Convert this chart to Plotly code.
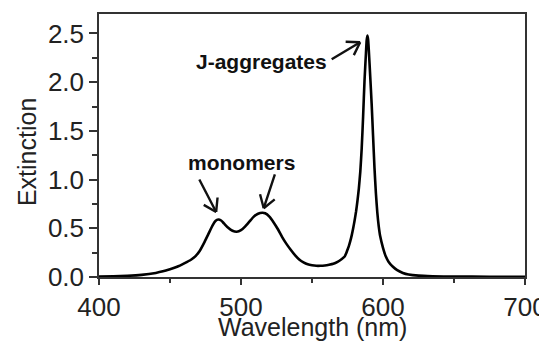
import math
import plotly.graph_objects as go

# extinction spectrum
wavelength = [400, 410, 420, 430, 440, 445, 450, 455, 460, 465, 468, 471, 474, 477, 480,
              482, 484, 486, 488, 491, 494, 497, 500, 503, 506, 509, 512, 515, 517, 520,
              523, 526, 529, 532, 535, 538, 541, 544, 547, 550, 553, 556, 559, 562, 565,
              568, 571, 573, 574, 575, 576, 577, 578, 579, 580, 581, 582, 583, 584, 585,
              586, 587, 588, 588.5, 589, 589.5, 590, 591, 592, 593, 594, 595, 596, 597, 598,
              600, 602, 604, 607, 610, 614, 618, 625, 635, 650, 675, 700]
extinction = [0.005, 0.007, 0.012, 0.022, 0.042, 0.058, 0.080, 0.105, 0.14, 0.18, 0.215, 0.27,
              0.35, 0.44, 0.53, 0.575, 0.59, 0.58, 0.55, 0.505, 0.475, 0.465, 0.48, 0.52, 0.57,
              0.62, 0.65, 0.66, 0.655, 0.62, 0.56, 0.49, 0.41, 0.34, 0.28, 0.225, 0.18, 0.15,
              0.13, 0.12, 0.115, 0.115, 0.118, 0.125, 0.135, 0.155, 0.185, 0.21, 0.24, 0.28,
              0.32, 0.37, 0.43, 0.50, 0.58, 0.67, 0.78, 0.91, 1.08, 1.32, 1.65, 2.02, 2.30,
              2.43, 2.48, 2.44, 2.33, 2.06, 1.78, 1.45, 1.12, 0.86, 0.66, 0.52, 0.42, 0.30,
              0.21, 0.155, 0.105, 0.07, 0.042, 0.026, 0.014, 0.008, 0.004, 0.003, 0.002]

# labels: (text, x, y)
labels = [("monomers", 500.3, 1.18), ("J-aggregates", 514.3, 2.21)]
# arrows: tip (x, y) and tail (x, y) in data units
arrows = [((482.5, 0.668), (470.1, 1.016)),
          ((516.0, 0.706), (524.2, 1.068)),
          ((583.9, 2.41), (562.8, 2.226))]

# page body has an 8px margin, so the figure is drawn 8px smaller
W, H = 539, 334
ml, mr, mt, mb = 91, 22, 6, 65
xr, yr = (400, 700), (0, 2.7)
px_x = (W - ml - mr) / (xr[1] - xr[0])
px_y = (H - mt - mb) / (yr[1] - yr[0])

fig = go.Figure()
fig.add_trace(go.Scatter(x=wavelength, y=extinction, mode="lines",
                         line=dict(color="black", width=2.6, shape="spline", smoothing=0.5),
                         showlegend=False, hoverinfo="skip"))

for text, x, y in labels:
    fig.add_annotation(x=x, y=y, text="<b>%s</b>" % text, showarrow=False,
                       font=dict(family="Liberation Sans, Arial", size=21, color="#111"))


def seg(x, y, dx, dy):
    # line from tip (x,y) to a pixel offset (dx, dy)
    fig.add_annotation(x=x, y=y, ax=dx, ay=dy, axref="pixel", ayref="pixel", text="",
                       showarrow=True, arrowhead=0, arrowwidth=2.4, arrowcolor="#111",
                       standoff=0, startstandoff=0)


for (tx, ty), (sx, sy) in arrows:
    dx = (sx - tx) * px_x
    dy = -(sy - ty) * px_y
    seg(tx, ty, dx, dy)
    ang = math.atan2(dy, dx)
    for s in (-1, 1):
        a = ang + s * math.radians(33)
        seg(tx, ty, 16 * math.cos(a), 16 * math.sin(a))

axis_font = dict(family="Liberation Sans, Arial", size=26, color="#222")

# axis titles as paper annotations for exact placement
fig.add_annotation(text="Wavelength (nm)", xref="paper", yref="paper", x=0.5, y=0,
                   yshift=-50, showarrow=False, yanchor="middle",
                   font=dict(family="Liberation Sans, Arial", size=25, color="#222"))
fig.add_annotation(text="Extinction", xref="paper", yref="paper", x=-0.169, y=0.475,
                   showarrow=False, textangle=-90, xanchor="center",
                   font=dict(family="Liberation Sans, Arial", size=25, color="#222"))

fig.update_xaxes(range=list(xr), dtick=100, tick0=400, showline=True, linecolor="#333",
                 linewidth=1.5, mirror=True, ticks="outside", ticklen=6, tickwidth=1.5,
                 tickcolor="#333", showgrid=False, zeroline=False, tickfont=axis_font,
                 automargin=False,
                 minor=dict(dtick=50, ticks="outside", ticklen=4, tickcolor="#333"))
fig.update_yaxes(range=list(yr), dtick=0.5, tick0=0, tickformat=".1f", showline=True,
                 linecolor="#333", linewidth=1.5, mirror=True, ticks="outside", ticklen=8,
                 tickwidth=1.5, tickcolor="#333", showgrid=False, zeroline=False,
                 tickfont=axis_font, automargin=False,
                 minor=dict(dtick=0.25, ticks="outside", ticklen=5, tickcolor="#333"))
fig.update_layout(width=W, height=H, margin=dict(l=ml, r=mr, t=mt, b=mb),
                  paper_bgcolor="white", plot_bgcolor="white")

fig.write_html("out.html")
